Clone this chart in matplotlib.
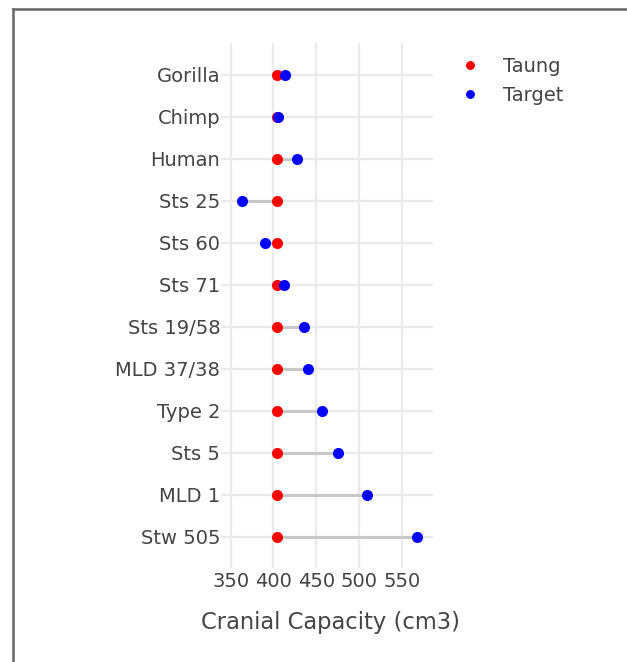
import numpy as np
import matplotlib
matplotlib.use("Agg")
import matplotlib.pyplot as plt
from matplotlib.lines import Line2D

plt.rcParams["font.family"] = ["DejaVu Sans"]

specimens = ["Gorilla", "Chimp", "Human", "Sts 25", "Sts 60", "Sts 71",
             "Sts 19/58", "MLD 37/38", "Type 2", "Sts 5", "MLD 1", "Stw 505"]
taung = [404, 404, 404, 404, 404, 404, 404, 404, 404, 404, 404, 404]
target = [414, 405, 428, 363, 390, 412, 436, 440, 457, 475, 510, 568]
xticks = [350, 400, 450, 500, 550]

TXT = "#444444"
GRID = "#ebebeb"

fig = plt.figure(figsize=(6.27, 6.62), dpi=100)
ax = fig.add_axes([228 / 627, 94 / 662, 205 / 627, 525 / 662])

ypos = np.arange(len(specimens))
for y, a, b in zip(ypos, taung, target):
    ax.plot([a, b], [y, y], color="#c8c8c8", lw=2.2, zorder=2,
            solid_capstyle="butt")
ax.plot(taung, ypos, "o", color="red", ms=8, mec="none", zorder=3, label="Taung")
ax.plot(target, ypos, "o", color="blue", ms=8, mec="none", zorder=4, label="Target")

ax.set_xlim(346.9, 586.7)
ax.set_ylim(11.74, -0.76)
ax.set_xticks(xticks)
ax.set_yticks(ypos)
ax.set_yticklabels(specimens)
ax.grid(True, color=GRID, lw=1.6, zorder=0)
ax.set_axisbelow(True)
for s in ax.spines.values():
    s.set_visible(False)
ax.tick_params(axis="y", length=5, width=1.6, color=GRID, pad=0.5,
               labelsize=14, labelcolor=TXT)
ax.tick_params(axis="x", length=0, pad=3, labelsize=14, labelcolor=TXT)
ax.set_xlabel("Cranial Capacity (cm3)", fontsize=16.3, color=TXT, labelpad=14)

fig.legend(loc="upper left", bbox_to_anchor=(441 / 627, 1 - 39 / 662),
           frameon=False, fontsize=14, labelcolor=TXT, handlelength=1.2,
           handletextpad=1.1, labelspacing=0.55, markerscale=0.8)

# outer frame (top and left edges)
fig.add_artist(Line2D([13 / 627, 1], [1 - 9 / 662, 1 - 9 / 662],
                      transform=fig.transFigure, color="#666666", lw=1.8))
fig.add_artist(Line2D([13 / 627, 13 / 627], [0, 1 - 9 / 662],
                      transform=fig.transFigure, color="#666666", lw=1.8))

fig.savefig("out.png", dpi=100)
